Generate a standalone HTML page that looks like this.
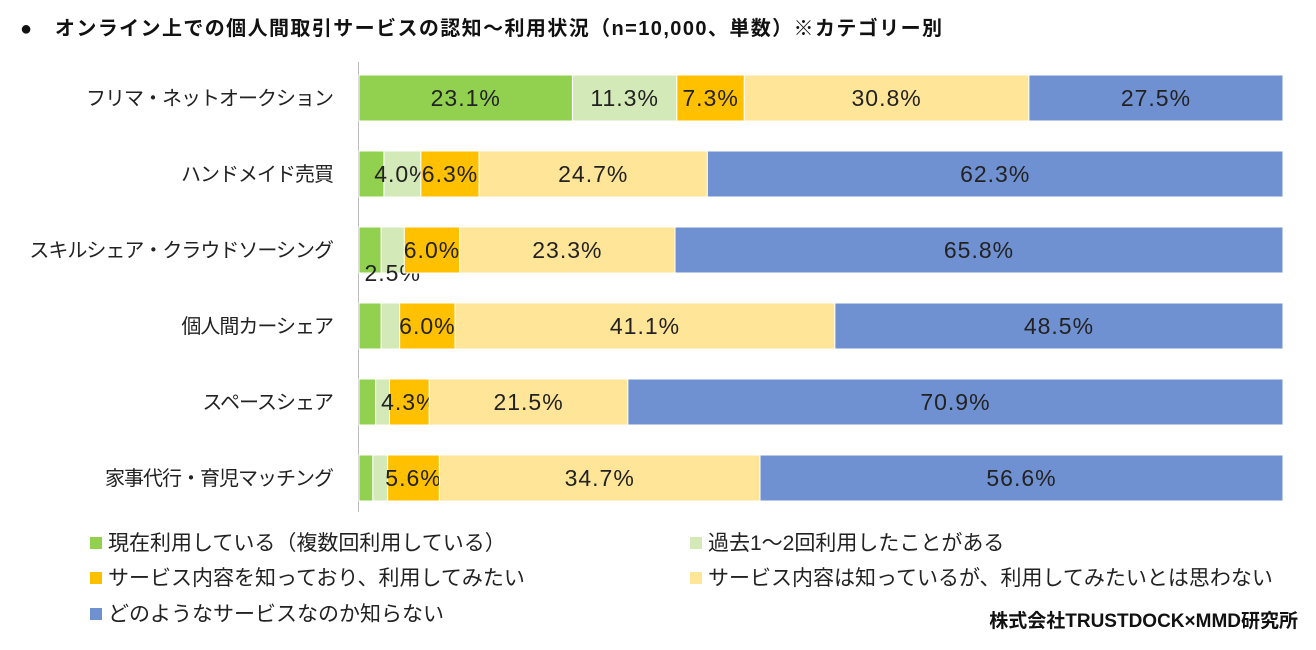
<!DOCTYPE html>
<html><head><meta charset="utf-8">
<style>
body{margin:0;background:#fff;width:1316px;height:645px;overflow:hidden;font-family:"Liberation Sans","Noto Sans CJK JP",sans-serif;}
svg text{font-family:"Liberation Sans","Noto Sans CJK JP",sans-serif;}
</style></head><body>
<svg id="chart" width="1316" height="645">
<text x="20" y="35" font-size="20" font-weight="bold" fill="#111" textLength="922">●　オンライン上での個人間取引サービスの認知～利用状況（n=10,000、単数）※カテゴリー別</text>
<line x1="358.5" y1="62" x2="358.5" y2="512" stroke="#bbb"/>
<g id="bars"></g>
<g id="legend"></g>
<text x="1298" y="627" font-size="19" font-weight="bold" text-anchor="end" fill="#111">株式会社TRUSTDOCK×MMD研究所</text>
</svg>
<script>
const categories=["フリマ・ネットオークション","ハンドメイド売買","スキルシェア・クラウドソーシング","個人間カーシェア","スペースシェア","家事代行・育児マッチング"];
const seriesNames=["現在利用している（複数回利用している）","過去1～2回利用したことがある","サービス内容を知っており、利用してみたい","サービス内容は知っているが、利用してみたいとは思わない","どのようなサービスなのか知らない"];
const current=[23.1,2.7,2.4,2.4,1.8,1.5];
const past=[11.3,4.0,2.5,2.0,1.5,1.6];
const wantTry=[7.3,6.3,6.0,6.0,4.3,5.6];
const knowNoTry=[30.8,24.7,23.3,41.1,21.5,34.7];
const unknown=[27.5,62.3,65.8,48.5,70.9,56.6];
const series=[current,past,wantTry,knowNoTry,unknown];
const colors=["#92d050","#d3e9b7","#ffc000","#ffe597","#7091d1"];
const x0=359,x1=1283;
const xs=v=>(x1-x0)*v/100;
const yc=i=>98+i*76;
const ns="http://www.w3.org/2000/svg";
const g=document.getElementById("bars");
categories.forEach((c,i)=>{
  const t=document.createElementNS(ns,"text");
  
  
  t.setAttribute("x",333);t.setAttribute("y",yc(i)+7);t.setAttribute("text-anchor","end");
  t.setAttribute("font-size","20");t.setAttribute("letter-spacing","-1");t.setAttribute("fill","#222");t.textContent=c;g.appendChild(t);
  let acc=0;
  series.forEach((s,k)=>{
    const v=s[i];const x=x0+xs(acc);const w=xs(v);
    const r=document.createElementNS(ns,"rect");
    
    
    r.setAttribute("x",x);r.setAttribute("y",yc(i)-23);r.setAttribute("width",w);r.setAttribute("height",46);
    r.setAttribute("fill",colors[k]);r.setAttribute("stroke","#fff");r.setAttribute("stroke-width","1");g.appendChild(r);
    let show=v>=4, dy=8;
    if(k==1&&i==2){show=true;dy=31;}
    if(show){
      const l=document.createElementNS(ns,"text");
      
      
      l.setAttribute("x",x+w/2);l.setAttribute("y",yc(i)+dy);l.setAttribute("text-anchor","middle");
      l.setAttribute("font-size","23");l.setAttribute("letter-spacing","1");l.setAttribute("fill","#222");l.textContent=v.toFixed(1)+"%";g.appendChild(l);
    }
    acc+=v;
  });
});
const lg=document.getElementById("legend");
const lpos=[[90,543],[690,543],[90,578],[690,578],[90,614]];
seriesNames.forEach((n,k)=>{
  const r=document.createElementNS(ns,"rect");
  
  
  r.setAttribute("x",lpos[k][0]);r.setAttribute("y",lpos[k][1]-6);r.setAttribute("width",12);r.setAttribute("height",12);
  r.setAttribute("fill",colors[k]);lg.appendChild(r);
  const t=document.createElementNS(ns,"text");
  
  
  t.setAttribute("x",lpos[k][0]+18);t.setAttribute("y",lpos[k][1]+7);t.setAttribute("font-size","21");
  t.setAttribute("fill","#222");t.textContent=n;lg.appendChild(t);
});
</script>
</body></html>
